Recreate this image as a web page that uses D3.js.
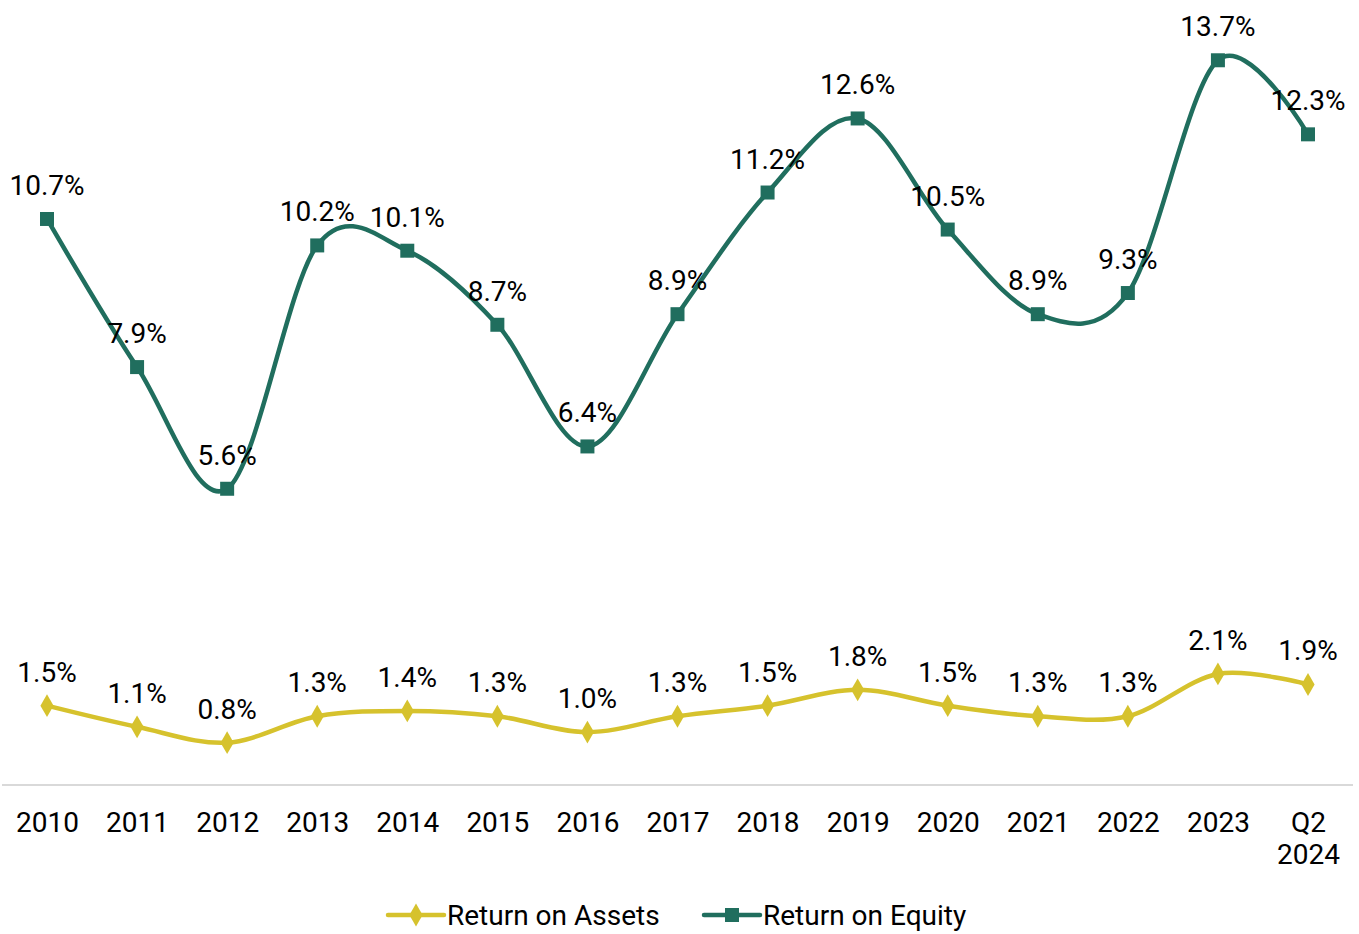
<!DOCTYPE html>
<html>
<head>
<meta charset="utf-8">
<script src="https://cdn.jsdelivr.net/npm/d3@7"></script>
<style>
  body { margin: 0; background: #fff; }
  text { font-family: Roboto, "DejaVu Sans Condensed", sans-serif; fill: #000; }
</style>
</head>
<body>
<div class="chart"></div>
<script>
var years = ["2010", "2011", "2012", "2013", "2014", "2015", "2016", "2017", "2018", "2019", "2020", "2021", "2022", "2023", "Q2 2024"];
var roa = [1.5, 1.1, 0.8, 1.3, 1.4, 1.3, 1.0, 1.3, 1.5, 1.8, 1.5, 1.3, 1.3, 2.1, 1.9];
var roe = [10.7, 7.9, 5.6, 10.2, 10.1, 8.7, 6.4, 8.9, 11.2, 12.6, 10.5, 8.9, 9.3, 13.7, 12.3];

var svgWidth = 1359;
var svgHeight = 934;
var roaColor = "#d6c22d";
var roeColor = "#206e5e";
var fontSize = "28px";

var svg = d3.select(".chart")
  .append("svg")
  .attr("width", svgWidth)
  .attr("height", svgHeight);

var xScale = d3.scalePoint()
  .domain(years)
  .range([47, 1308]);

var yScale = d3.scaleLinear()
  .domain([0, 14])
  .range([785, 785 - 14 * 52.9]);

// axis line
svg.append("line")
  .attr("x1", 2)
  .attr("x2", 1353)
  .attr("y1", yScale(0))
  .attr("y2", yScale(0))
  .attr("stroke", "#d9d9d9")
  .attr("stroke-width", 2);

var bottomAxis = d3.axisBottom(xScale).tickSize(0).tickFormat("");
var axisG = svg.append("g")
  .attr("transform", `translate(0, ${yScale(0)})`)
  .call(bottomAxis);
axisG.select(".domain").remove();

axisG.selectAll(".tick").each(function(d) {
  var parts = d.split(" ");
  var t = d3.select(this).append("text")
    .attr("text-anchor", "middle")
    .attr("font-size", fontSize)
    .attr("y", 47);
  parts.forEach(function(p, i) {
    t.append("tspan").attr("x", 0).attr("dy", i == 0 ? 0 : 32).text(p);
  });
});

var line = d3.line()
  .x((d, i) => xScale(years[i]))
  .y(d => yScale(d))
  .curve(d3.curveCardinal.tension(0));

function drawSeries(values, color, marker) {
  svg.append("path")
    .datum(values)
    .attr("fill", "none")
    .attr("stroke", color)
    .attr("stroke-width", 4.5)
    .attr("d", line);

  svg.selectAll(null)
    .data(values)
    .enter()
    .append("path")
    .attr("transform", (d, i) => `translate(${xScale(years[i])}, ${yScale(d)})`)
    .attr("d", d3.symbol().type(marker).size(marker == d3.symbolSquare ? 196 : 150))
    .attr("fill", color);

  svg.selectAll(null)
    .data(values)
    .enter()
    .append("text")
    .attr("x", (d, i) => xScale(years[i]))
    .attr("y", d => yScale(d) - 24)
    .attr("text-anchor", "middle")
    .attr("font-size", fontSize)
    .text(d => d.toFixed(1) + "%");
}

drawSeries(roa, roaColor, d3.symbolDiamond);
drawSeries(roe, roeColor, d3.symbolSquare);

// legend
var legend = [
  { name: "Return on Assets", color: roaColor, marker: d3.symbolDiamond, x: 388 },
  { name: "Return on Equity", color: roeColor, marker: d3.symbolSquare, x: 704 }
];
var legendG = svg.selectAll(".legend")
  .data(legend)
  .enter()
  .append("g")
  .attr("transform", d => `translate(${d.x}, 915)`);
legendG.append("line")
  .attr("x1", 0).attr("x2", 56)
  .attr("stroke", d => d.color)
  .attr("stroke-width", 4.5)
  .attr("stroke-linecap", "round");
legendG.append("path")
  .attr("transform", "translate(28,0)")
  .attr("d", d => d3.symbol().type(d.marker).size(d.marker == d3.symbolSquare ? 196 : 150)())
  .attr("fill", d => d.color);
legendG.append("text")
  .attr("x", 59)
  .attr("y", 10)
  .attr("font-size", fontSize)
  .text(d => d.name);
</script>
</body>
</html>
